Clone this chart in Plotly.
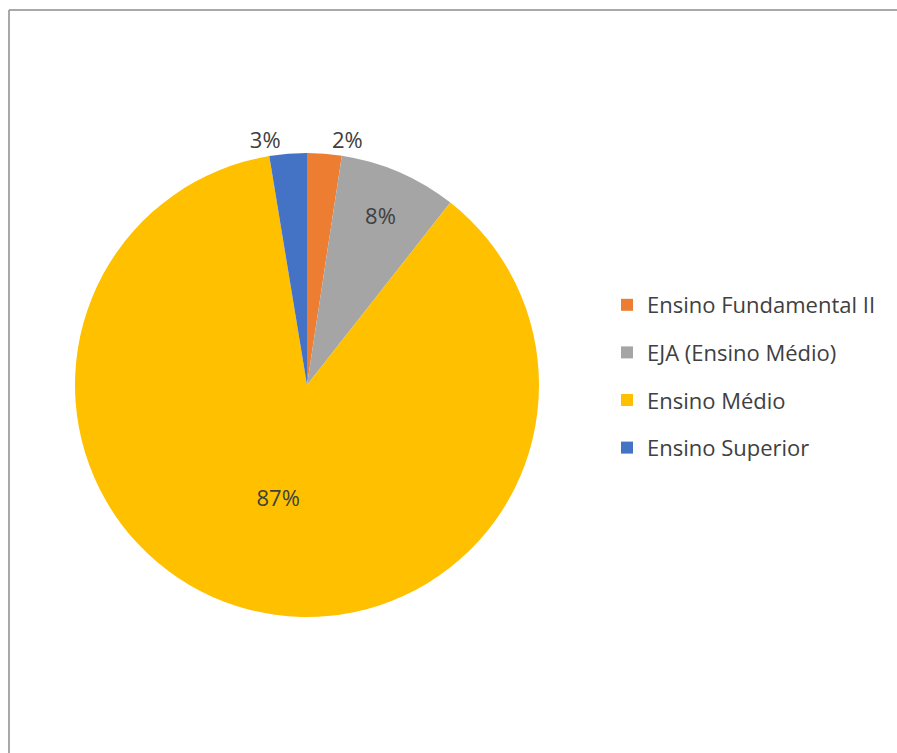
import plotly.graph_objects as go

categories = ["Ensino Fundamental II", "EJA (Ensino Médio)", "Ensino Médio", "Ensino Superior"]
values = [2.4, 8.2, 86.8, 2.6]
colors = ["#ED7D31", "#A5A5A5", "#FFC000", "#4472C4"]
text_positions = ["outside", "inside", "inside", "outside"]

W, H = 897, 753
cx, cy, r = 307, 385, 232
FONT = "Open Sans"

fig = go.Figure()
fig.add_trace(go.Pie(
    labels=categories,
    values=values,
    sort=False,
    direction="clockwise",
    rotation=0,
    marker=dict(colors=colors, line=dict(width=0)),
    texttemplate="%{percent:.0%}",
    textposition=text_positions,
    textfont=dict(family=FONT, size=22, color="#404040"),
    insidetextorientation="horizontal",
    showlegend=False,
    hoverinfo="label+percent",
    domain=dict(x=[(cx - r) / W, (cx + r) / W], y=[(H - cy - r) / H, (H - cy + r) / H]),
))

for cat, col in zip(categories, colors):
    fig.add_trace(go.Scatter(
        x=[None], y=[None], mode="markers",
        marker=dict(symbol="square", size=12, color=col),
        name=cat, legendgroup=cat, showlegend=True,
    ))

fig.update_layout(
    width=W, height=H,
    margin=dict(l=0, r=0, t=0, b=0),
    paper_bgcolor="white",
    plot_bgcolor="white",
    xaxis=dict(visible=False),
    yaxis=dict(visible=False),
    legend=dict(
        x=(607) / W, y=(H - 284) / H, xanchor="left", yanchor="top",
        font=dict(family=FONT, size=22, color="#404040"),
        tracegroupgap=16,
        itemwidth=30,
        bgcolor="rgba(0,0,0,0)",
    ),
    shapes=[
        dict(type="line", xref="paper", yref="paper", x0=9 / W, x1=9 / W, y0=0, y1=(H - 10) / H,
             line=dict(color="#8C8C8C", width=1.5)),
        dict(type="line", xref="paper", yref="paper", x0=9 / W, x1=1, y0=(H - 10) / H, y1=(H - 10) / H,
             line=dict(color="#8C8C8C", width=1.5)),
    ],
)

fig.write_html("out.html")
